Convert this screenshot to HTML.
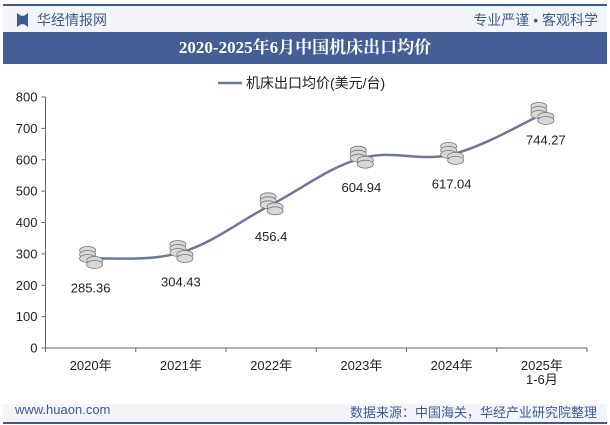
<!DOCTYPE html>
<html><head><meta charset="utf-8"><style>
body{margin:0;width:610px;height:425px;overflow:hidden;background:#fff;font-family:"Liberation Sans","Noto Sans CJK SC",sans-serif;position:relative}
.abs{position:absolute}
</style></head><body>
<div class="abs" style="left:3px;top:4px;width:604px;height:2px;background:#3f5a92"></div>
<div class="abs" style="left:3px;top:6px;width:604px;height:26px;background:#f3f5f9"></div>
<div class="abs" style="left:17px;top:13px;width:11px;height:14px;background:#3f5a92;clip-path:polygon(0 0,35% 20%,65% 20%,100% 0,100% 100%,65% 80%,35% 80%,0 100%)"></div>
<div class="abs" style="left:37px;top:10px;font-size:14px;color:#3f5a92">华经情报网</div>
<div class="abs" style="right:12px;top:10px;font-size:14px;color:#3f5a92">专业严谨 • 客观科学</div>
<div class="abs" style="left:3px;top:32px;width:604px;height:32px;background:#455f96;color:#fff;font-weight:bold;font-size:17px;line-height:32px;text-align:center;font-family:'Liberation Serif','Noto Serif CJK SC',serif">2020-2025年6月中国机床出口均价</div>
<svg class="abs" style="left:0;top:0" width="610" height="425" id="chart"></svg>
<div class="abs" style="left:3px;top:404px;width:604px;height:19px;background:#f3f5f9"></div>
<div class="abs" style="left:3px;top:422px;width:604px;height:2px;background:#3f5a92"></div>
<div class="abs" style="left:15px;top:402px;font-size:13px;color:#3f5a92">www.huaon.com</div>
<div class="abs" style="right:13px;top:402px;font-size:13px;color:#3f5a92">数据来源：中国海关，华经产业研究院整理</div>
<script>
const categories=["2020年","2021年","2022年","2023年","2024年","2025年\n1-6月"];
const values=[285.36,304.43,456.4,604.94,617.04,744.27];
const labels=["285.36","304.43","456.4","604.94","617.04","744.27"];
const yTicks=[0,100,200,300,400,500,600,700,800];
const NS="http://www.w3.org/2000/svg";
const svg=document.getElementById('chart');
const x0=45.5,x1=587,y0=348,yTop=97;
const step=(x1-x0)/categories.length;
const xs=i=>x0+step*(i+0.5);
const ys=v=>y0-(v/800)*(y0-yTop);
function mk(t,a){const e=document.createElementNS(NS,t);for(const k in a)e.setAttribute(k,a[k]);svg.appendChild(e);return e;}
// axes
let e=mk('line',{x1:x0,y1:yTop,x2:x0,y2:y0,stroke:'#666'});


e=mk('line',{x1:x0,y1:y0,x2:x1,y2:y0,stroke:'#666'});


yTicks.forEach(v=>{
 const t=mk('line',{x1:x0-4,y1:ys(v),x2:x0,y2:ys(v),stroke:'#666'});
 
 
 const l=mk('text',{x:x0-8,y:ys(v)+4.5,'text-anchor':'end','font-size':13,fill:'#222'});
 l.textContent=v;
 
 
});
for(let i=0;i<=categories.length;i++){
 const t=mk('line',{x1:x0+step*i,y1:y0,x2:x0+step*i,y2:y0+4,stroke:'#666'});
 
 
}
categories.forEach((c,i)=>{
 c.split('\n').forEach((p,j)=>{
  const l=mk('text',{x:xs(i),y:y0+22+j*14,'text-anchor':'middle','font-size':13,fill:'#222'});
  l.textContent=p;
  
  
 });
});
// smooth line
const pts=values.map((v,i)=>[xs(i),ys(v)]);
let d=`M${pts[0][0]},${pts[0][1]}`;
for(let i=0;i<pts.length-1;i++){
 const p0=pts[i-1]||pts[i],p1=pts[i],p2=pts[i+1],p3=pts[i+2]||p2,s=0.18;
 d+=` C${p1[0]+(p2[0]-p0[0])*s},${p1[1]+(p2[1]-p0[1])*s} ${p2[0]-(p3[0]-p1[0])*s},${p2[1]-(p3[1]-p1[1])*s} ${p2[0]},${p2[1]}`;
}
e=mk('path',{d:d,fill:'none',stroke:'#6b7a99','stroke-width':2.5});


pts.forEach((p,i)=>{
 const g=document.createElementNS(NS,'g');svg.appendChild(g);
 
 
 [[-3,-8],[-3,-4],[-3,0],[4,2],[4,6]].forEach(o=>{
  const c=document.createElementNS(NS,'ellipse');
  c.setAttribute('cx',p[0]+o[0]);c.setAttribute('cy',p[1]+o[1]);c.setAttribute('rx',8);c.setAttribute('ry',4);
  c.setAttribute('fill','#d8d8d8');c.setAttribute('stroke','#777');c.setAttribute('stroke-width',0.8);
  g.appendChild(c);
 });
 const l=mk('text',{x:p[0]+(i==5?4:0),y:p[1]+(i<2?34:i==5?30:34)-(i==2?-2:0),'text-anchor':'middle','font-size':13,fill:'#222'});
 l.textContent=labels[i];
 
 
});
// legend
e=mk('line',{x1:218,y1:83,x2:242,y2:83,stroke:'#6b7a99','stroke-width':2.5});


e=mk('text',{x:246,y:88,'font-size':14,fill:'#222'});
e.textContent='机床出口均价(美元/台)';


</script>
</body></html>
